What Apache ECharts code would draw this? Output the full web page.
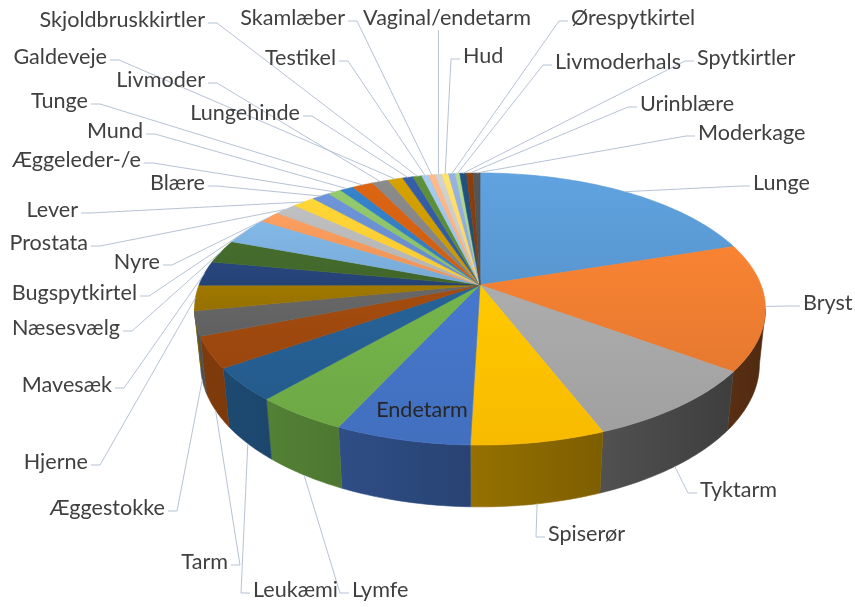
<!DOCTYPE html>
<html>
<head>
<meta charset="utf-8">
<script src="https://cdn.jsdelivr.net/npm/echarts@6/dist/echarts.min.js"></script>
<style>
html, body { margin: 0; padding: 0; background: #fff; }
#main { width: 855px; height: 607px; }
</style>
</head>
<body>
<div id="main"></div>
<script>
var names = ['Lunge', 'Bryst', 'Tyktarm', 'Spiserør', 'Endetarm', 'Lymfe', 'Leukæmi', 'Tarm',
  'Æggestokke', 'Hjerne', 'Mavesæk', 'Næsesvælg', 'Bugspytkirtel', 'Nyre', 'Prostata', 'Lever',
  'Blære', 'Æggeleder-/e', 'Mund', 'Tunge', 'Livmoder', 'Galdeveje', 'Lungehinde',
  'Skjoldbruskkirtler', 'Testikel', 'Skamlæber', 'Vaginal/endetarm', 'Hud', 'Ørespytkirtel',
  'Livmoderhals', 'Spytkirtler', 'Urinblære', 'Moderkage'];
var values = [20.0, 15.0, 9.0, 6.4, 6.5, 4.5, 3.9, 3.7,
  2.9, 3.0, 2.9, 2.8, 3.2, 1.4, 1.5, 1.5,
  1.2, 0.9, 0.9, 1.4, 1.1, 1.0, 0.7,
  0.6, 0.45, 0.45, 0.45, 0.45, 0.45,
  0.3, 0.45, 0.45, 0.45];
var colors = ['#5B9BD5', '#ED7D31', '#A5A5A5', '#FFC000', '#4472C4', '#70AD47', '#255E91', '#9E480E',
  '#636363', '#997300', '#264478', '#43682B', '#7CAFDD', '#F1975A', '#B7B7B7', '#FFCD33',
  '#698ED0', '#8CC168', '#327DC2', '#D26012', '#848484', '#CC9A00', '#335AA1',
  '#5A8A39', '#9DC3E6', '#F4B183', '#C9C9C9', '#FFD966', '#8FAADC',
  '#A9D18E', '#1F4E79', '#843C0C', '#525252'];

// label placement: side the leader comes from, x, y (centre line of text)
var labelSpots = [
  ['l', 753, 183], ['l', 803, 303], ['l', 700, 490], ['l', 548, 534], ['in', 422, 410],
  ['l', 352, 590], ['l', 253, 590], ['r', 228, 562], ['r', 165, 508], ['r', 88, 462],
  ['r', 112, 385], ['r', 120, 328], ['r', 137, 293], ['r', 160, 262], ['r', 88, 243],
  ['r', 78, 210], ['r', 205, 183], ['r', 141, 160], ['r', 143, 131], ['r', 88, 101],
  ['r', 205, 80], ['r', 107, 57], ['r', 300, 113], ['r', 205, 20], ['r', 336, 58],
  ['r', 345, 18], ['b', 447, 18], ['l', 463, 56], ['l', 571, 18], ['l', 555, 62],
  ['l', 697, 58], ['l', 640, 104], ['l', 698, 133]
];

var total = values.reduce(function (a, b) { return a + b; }, 0);
var starts = [];
var acc = 0;
for (var i = 0; i < values.length; i++) {
  starts.push(acc / total * Math.PI * 2);
  acc += values[i];
}

// tilted pie with a bit of perspective, like excel's 3-D pie
var CX = 480, CY = 285, RAD = 281;
var SIN_T = 0.469, COS_T = 0.883, PERSP = 0.1765, DEPTH = 0.224;
var WALL_FROM = 100 * Math.PI / 180, WALL_TO = 260 * Math.PI / 180;
var FONT = '21.6px Lato';
var LINE = '#b7c3d4';

// phi: clockwise from the back, r: 0..1, h: 0 = top face, DEPTH = bottom
function project(phi, r, h) {
  var u = r * Math.sin(phi), v = -r * Math.cos(phi);
  var down = v * SIN_T + h * COS_T;
  var z = v * COS_T - h * SIN_T;
  var s = 1 / (1 - z * PERSP / COS_T);
  return [CX + RAD * u * s, CY + RAD * down * s];
}

function shade(hex, f) {
  var n = parseInt(hex.slice(1), 16);
  var r = Math.min(255, Math.round(((n >> 16) & 255) * f));
  var g = Math.min(255, Math.round(((n >> 8) & 255) * f));
  var b = Math.min(255, Math.round((n & 255) * f));
  return 'rgb(' + r + ',' + g + ',' + b + ')';
}

function wallLight(phi) {
  return 0.58 - 0.25 * Math.sin(phi);
}

function arc(a0, a1, h) {
  var pts = [];
  var n = Math.max(2, Math.ceil((a1 - a0) / (Math.PI / 180)));
  for (var k = 0; k <= n; k++) {
    pts.push(project(a0 + (a1 - a0) * k / n, 1, h));
  }
  return pts;
}

function renderSlice(params, api) {
  var i = params.dataIndex;
  var a0 = starts[i];
  var a1 = a0 + api.value(0) / total * Math.PI * 2;
  var c = colors[i];
  var children = [];

  // top face, a touch lighter towards the back
  var top = [project(0, 0, 0)].concat(arc(a0, a1, 0));
  children.push({
    type: 'polygon', z2: 2,
    shape: { points: top },
    style: {
      fill: new echarts.graphic.LinearGradient(0, 0, 0, 1, [
        { offset: 0, color: shade(c, 1.05) },
        { offset: 1, color: shade(c, 0.97) }
      ]),
      stroke: c, lineWidth: 0.6
    }
  });

  // outer wall, front half only
  var w0 = Math.max(a0, WALL_FROM), w1 = Math.min(a1, WALL_TO);
  if (w1 > w0) {
    var wall = arc(w0, w1, 0).concat(arc(w0, w1, DEPTH).reverse());
    children.push({
      type: 'polygon', z2: 1,
      shape: { points: wall },
      style: {
        fill: new echarts.graphic.LinearGradient(0, 0, 1, 0, [
          { offset: 0, color: shade(c, wallLight(w1)) },
          { offset: 1, color: shade(c, wallLight(w0)) }
        ]),
        stroke: shade(c, wallLight((w0 + w1) / 2)),
        lineWidth: 0.6
      }
    });
  }

  // label + leader
  var spot = labelSpots[i];
  var mid = (a0 + a1) / 2;
  var front = mid > WALL_FROM && mid < WALL_TO;
  var anchor = project(mid, 1, front ? DEPTH : 0);
  var align = spot[0] === 'l' ? 'left' : spot[0] === 'r' ? 'right' : 'center';
  children.push({
    type: 'text', z2: 4,
    x: spot[1], y: spot[2],
    style: { text: names[i], font: FONT, fill: spot[0] === 'in' ? '#262626' : '#404040', align: align, verticalAlign: 'middle' }
  });
  var pts = null;
  if (spot[0] === 'l') {
    pts = [anchor, [spot[1] - 12, spot[2] + 3], [spot[1] - 3, spot[2] + 3]];
  } else if (spot[0] === 'r') {
    pts = [anchor, [spot[1] + 12, spot[2] + 3], [spot[1] + 3, spot[2] + 3]];
  } else if (spot[0] === 'b') {
    pts = [anchor, [anchor[0], spot[2] + 12]];
  }
  if (pts) {
    children.push({
      type: 'polyline', z2: 3,
      shape: { points: pts },
      style: { stroke: LINE, lineWidth: 1, fill: null }
    });
  }

  return { type: 'group', children: children };
}

var chartDom = document.getElementById('main');
var myChart = echarts.init(chartDom);
var option = {
  animation: false,
  backgroundColor: '#fff',
  series: [{
    type: 'custom',
    coordinateSystem: 'none',
    silent: true,
    data: values.map(function (v, i) { return { name: names[i], value: [v] }; }),
    renderItem: renderSlice
  }]
};
option && myChart.setOption(option);
</script>
</body>
</html>
